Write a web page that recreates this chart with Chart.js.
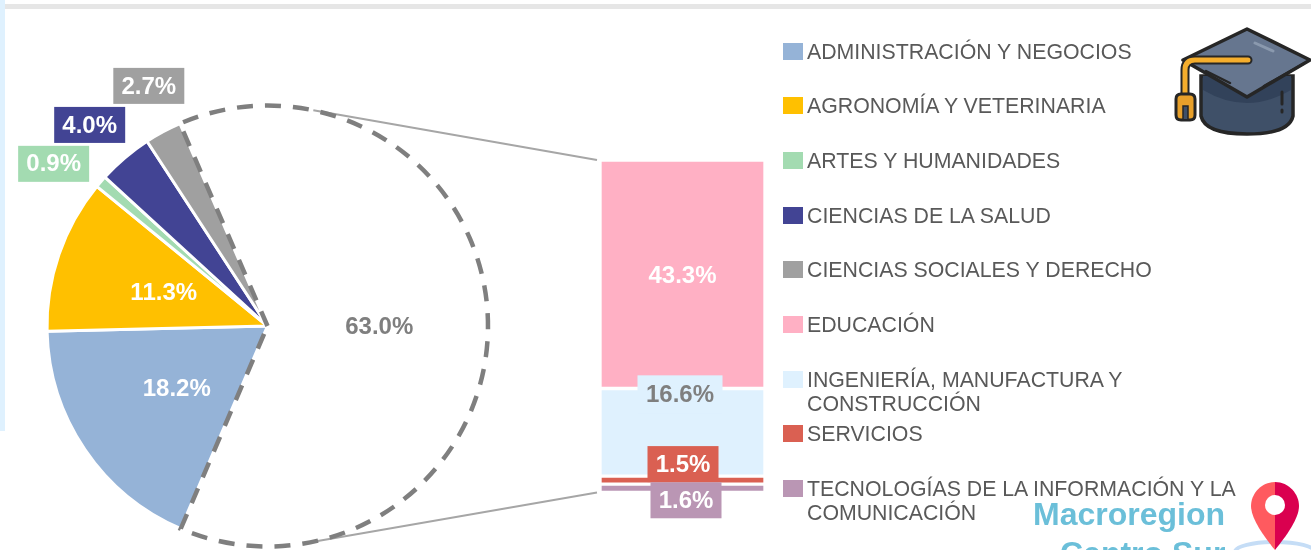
<!DOCTYPE html>
<html lang="es">
<head>
<meta charset="utf-8">
<title>Macroregion Centro Sur</title>
<script src="https://cdn.jsdelivr.net/npm/chart.js@4"></script>
<style>
html,body{margin:0;padding:0;background:#fff;width:1311px;height:550px;overflow:hidden;font-family:"Liberation Sans",Arial,sans-serif}
#stage{position:relative;width:1311px;height:550px;overflow:hidden}
#stage canvas{position:absolute;left:0;top:0}
#topbar{position:absolute;left:5px;top:4px;right:0;height:5px;background:#E6E6E6}
#leftbar{position:absolute;left:0;top:0;width:5px;height:431px;background:#DFF1FE}
.sw{position:absolute;left:783px;width:20px;height:17px}
.lg{position:absolute;left:807px;font-size:21.3px;line-height:24px;color:#595959;white-space:pre}
#mac{position:absolute;left:1033px;top:496px;font:bold 32px/36px "Liberation Sans",Arial,sans-serif;color:#6BBFD9}
#cs{position:absolute;left:1060px;top:535px;font:bold 32px/36px "Liberation Sans",Arial,sans-serif;color:#6BBFD9}
svg{position:absolute;left:0;top:0}
</style>
</head>
<body>
<div id="stage">
  <div id="topbar"></div><div id="leftbar"></div>
  <canvas id="pie" width="1311" height="550"></canvas>
  <canvas id="bar" width="1311" height="550"></canvas>
  <div id="legend"></div>
  <div id="mac">Macroregion</div>
  <div id="cs">Centro Sur</div>
  <svg width="1311" height="550" viewBox="0 0 1311 550">
    <!-- graduation cap -->
    <path d="M1201 76 V116 Q1205 134 1247 134 Q1289 134 1293 116 V76 Z" fill="#3F5068" stroke="#262626" stroke-width="3.5"/>
    <path d="M1203 90 Q1247 116 1291 90 V76 H1203 Z" fill="#32425A"/>
    <path d="M1247 29 L1310 60 L1247 97 L1183 60 Z" fill="#66768F" stroke="#262626" stroke-width="3.5" stroke-linejoin="round"/>
    <path d="M1206 71 L1230 83 M1264 86 L1303 64" fill="none" stroke="#262626" stroke-width="2.5" stroke-linecap="round"/>
    <path d="M1255 43 L1273 51" stroke="#8A99AE" stroke-width="3" stroke-linecap="round"/>
    <path d="M1248 60 H1195 Q1185 60 1185 70 V96" fill="none" stroke="#262626" stroke-width="9" stroke-linecap="round"/>
    <path d="M1248 60 H1195 Q1185 60 1185 70 V96" fill="none" stroke="#F5AE2D" stroke-width="5" stroke-linecap="round"/>
    <path d="M1176 99 Q1176 94 1181 94 H1190 Q1195 94 1195 99 V115 Q1195 120 1190 120 H1181 Q1176 120 1176 115 Z" fill="#E8A02A" stroke="#262626" stroke-width="3"/>
    <path d="M1183 119 V106 H1188 V119" fill="#3F5068" stroke="#262626" stroke-width="1.5"/>
    <path d="M1282 92 V104 M1282 110 V112" stroke="#262626" stroke-width="3" stroke-linecap="round"/>
    <!-- location marker -->
    <ellipse cx="1275" cy="552" rx="40" ry="10" fill="none" stroke="#C5DDF6" stroke-width="4"/>
    <path d="M1275 482 C1261 482 1251 494 1251 506 C1251 520 1267 540 1275 550 Z" fill="#FF5A5F"/>
    <path d="M1275 482 C1289 482 1299 494 1299 506 C1299 520 1283 540 1275 550 Z" fill="#DA004F"/>
    <circle cx="1275" cy="505" r="10" fill="#fff"/>
  </svg>
</div>
<script>
const legendNames = ["ADMINISTRACIÓN Y NEGOCIOS","AGRONOMÍA Y VETERINARIA","ARTES Y HUMANIDADES","CIENCIAS DE LA SALUD","CIENCIAS SOCIALES Y DERECHO","EDUCACIÓN","INGENIERÍA, MANUFACTURA Y\nCONSTRUCCIÓN","SERVICIOS","TECNOLOGÍAS DE LA INFORMACIÓN Y LA\nCOMUNICACIÓN"];
const legendColors = ["#95B3D7","#FFC000","#A3DBB1","#424494","#A0A0A0","#FFB0C4","#DFF1FE","#DA6052","#BA96B4"];

const pieLabels = ["Otras","ADMINISTRACIÓN Y NEGOCIOS","AGRONOMÍA Y VETERINARIA","ARTES Y HUMANIDADES","CIENCIAS DE LA SALUD","CIENCIAS SOCIALES Y DERECHO"];
const pieValues = [63.0,18.2,11.3,0.9,4.0,2.7];

const barLabels = ["TECNOLOGÍAS DE LA INFORMACIÓN Y LA COMUNICACIÓN","SERVICIOS","INGENIERÍA, MANUFACTURA Y CONSTRUCCIÓN","EDUCACIÓN"];
const barValues = [1.6,1.5,16.6,43.3];

const byName = n => legendColors[legendNames.findIndex(x => x.replace("\n"," ") === n)];

/* legend */
const legendTops = [51,105,160,215,269,324,379,433,488];
const legendEl = document.getElementById("legend");
legendNames.forEach((n,i)=>{
  const s=document.createElement("div");s.className="sw";s.style.top=(legendTops[i]-8)+"px";s.style.background=legendColors[i];legendEl.appendChild(s);
  const t=document.createElement("div");t.className="lg";t.style.top=(legendTops[i]-11)+"px";t.textContent=n;legendEl.appendChild(t);
});

/* value labels: drawn next to each element, with an optional box */
function drawLabel(ctx,el,val,o,p){
  const x=p.x+(o.dx||0), y=p.y+(o.dy||0), txt=val.toFixed(1)+"%";
  ctx.save();
  ctx.font='bold 24px "Liberation Sans",Arial,sans-serif';
  if(o.box){ctx.fillStyle=o.box;const w=o.w||71,h=o.h||36;ctx.fillRect(x-w/2,y-h/2,w,h);}
  ctx.fillStyle=o.color||"#fff";ctx.textAlign="center";ctx.textBaseline="middle";
  ctx.fillText(txt,x,y+1);
  ctx.restore();
}

const pieLabelStyle=[
  {color:"#7F7F7F",dx:1.5,dy:1},
  {dx:0.5,dy:1},
  {dx:0.5,dy:2},
  {box:"#A3DBB1",dx:-130.5,dy:-90},
  {box:"#424494",dx:-106.5,dy:-117},
  {box:"#A0A0A0",dx:-66.5,dy:-143}
];
const barLabelStyle=[
  {box:"#BA96B4",dx:3.5,dy:12},
  {box:"#DA6052",dx:0.5,dy:-16},
  {box:"#DFF1FE",color:"#7F7F7F",dx:-2.5,dy:-38,w:85,h:38},
  {dy:1}
];

const barChart=new Chart(document.getElementById("bar"),{
  type:"bar",
  data:{labels:["Otras"],datasets:barLabels.map((l,i)=>({label:l,data:[barValues[i]],backgroundColor:byName(l),borderColor:"#fff",borderWidth:2,borderSkipped:false,barPercentage:1,categoryPercentage:1,stack:"s"}))},
  options:{responsive:false,animation:false,events:[],
    layout:{padding:{left:600,right:546,top:160,bottom:57.5}},
    plugins:{legend:{display:false},tooltip:{enabled:false}},
    scales:{x:{display:false,stacked:true},y:{display:false,stacked:true,min:0,max:63}}
  },
  plugins:[{id:"barValues",afterDatasetsDraw(c){
    [3,2,1,0].forEach(i=>{const el=c.getDatasetMeta(i).data[0];
      drawLabel(c.ctx,el,barValues[i],barLabelStyle[i],el.getCenterPoint());});
  }}]
});

const connector={topAngle:-78,bottomAngle:79.5,edgeGap:3,color:"#A6A6A6",width:2};
new Chart(document.getElementById("pie"),{
  type:"pie",
  data:{labels:pieLabels,datasets:[{data:pieValues,
    backgroundColor:["rgba(255,255,255,0)","#95B3D7","#FFC000","#A3DBB1","#424494","#A0A0A0"],
    borderColor:"#fff",borderWidth:[0,3,3,3,3,3]}]},
  options:{responsive:false,animation:false,events:[],
    rotation:-23.4,
    layout:{padding:{left:45.5,right:821.5,top:104,bottom:2}},
    plugins:{legend:{display:false},tooltip:{enabled:false}}
  },
  plugins:[{id:"pieOverlay",afterDatasetsDraw(c){
    const ctx=c.ctx, arcs=c.getDatasetMeta(0).data, a=arcs[0];
    const ya=barChart.scales.y;
    const b0=barChart.getDatasetMeta(0).data[0], barLeft=b0.x-b0.width/2;
    ctx.save();ctx.strokeStyle=connector.color;ctx.lineWidth=connector.width;
    [[connector.topAngle,ya.max],[connector.bottomAngle,ya.min]].forEach(([ang,v])=>{
      const r=ang*Math.PI/180;
      ctx.beginPath();ctx.moveTo(a.x+a.outerRadius*Math.cos(r),a.y+a.outerRadius*Math.sin(r));
      ctx.lineTo(barLeft-connector.edgeGap,ya.getPixelForValue(v));ctx.stroke();
    });
    /* dashed outline of the exploded slice */
    ctx.strokeStyle="#7F7F7F";ctx.lineWidth=4.5;ctx.setLineDash([16,12]);ctx.lineJoin="miter";
    ctx.beginPath();ctx.moveTo(a.x,a.y);ctx.arc(a.x,a.y,a.outerRadius,a.startAngle,a.endAngle);ctx.closePath();ctx.stroke();
    ctx.restore();
    arcs.forEach((el,i)=>drawLabel(ctx,el,pieValues[i],pieLabelStyle[i],el.tooltipPosition()));
  }}]
});
</script>
</body>
</html>
